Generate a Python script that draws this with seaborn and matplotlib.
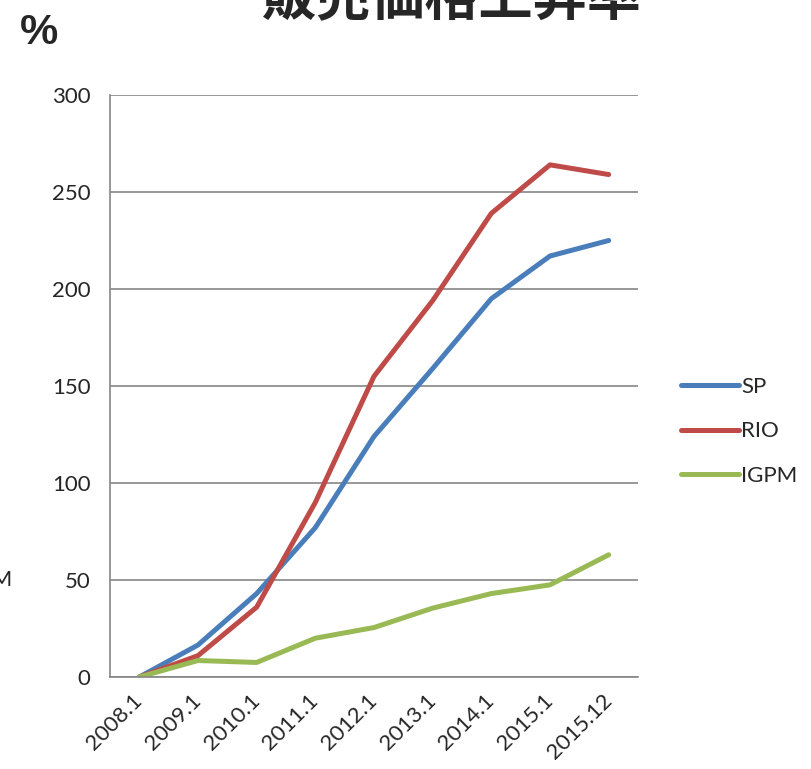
import matplotlib
matplotlib.use("Agg")
import matplotlib.pyplot as plt
import numpy as np
import pandas as pd
import seaborn as sns

# data
periods = ["2008.1", "2009.1", "2010.1", "2011.1", "2012.1",
           "2013.1", "2014.1", "2015.1", "2015.12"]
sp = [0, 16.5, 43, 77, 124, 159, 195, 217, 225]
rio = [0, 11, 36, 90, 155, 194, 239, 264, 259]
igpm = [0, 8.5, 7.5, 20, 25.5, 35.5, 43, 47.5, 63]
series_names = ["SP", "RIO", "IGPM"]
y_ticks = [0, 50, 100, 150, 200, 250, 300]

title = "販売価格上昇率"

frame = pd.DataFrame({"period": periods, "SP": sp, "RIO": rio, "IGPM": igpm})
long = frame.melt(id_vars="period", var_name="series", value_name="value")

sns.set_style("white")
plt.rcParams["font.family"] = ["Lato", "DejaVu Sans"]

palette = {"SP": "#4A7EBB", "RIO": "#BE4B48", "IGPM": "#98B954"}

fig = plt.figure(figsize=(8.11, 7.69), dpi=100)
ax = fig.add_axes([110 / 811, 1 - 677 / 769, (638 - 110) / 811, (677 - 95) / 769])

sns.lineplot(data=long, x="period", y="value", hue="series", hue_order=series_names,
             palette=palette, linewidth=3.6, ax=ax, sort=False)

n = len(periods)
ax.set_xlim(-0.5, n - 0.5)
ax.set_ylim(0, 300)
ax.set_yticks(y_ticks)
ax.set_xticks(range(n))
ax.set_xticklabels(periods, rotation=45, ha="right", va="center",
                   rotation_mode="anchor", fontsize=16)
ax.set_xticks(np.arange(-0.5, n, 1.0), minor=True)
ax.tick_params(axis="x", which="major", length=0, pad=15)
ax.tick_params(axis="x", which="minor", length=6, width=1.2, color="#868686")
ax.tick_params(axis="y", length=6, width=1.2, color="#868686", labelsize=16, pad=8)
ax.set_xlabel("")
ax.set_ylabel("")
ax.yaxis.grid(True, color="#868686", linewidth=1.2)
ax.set_axisbelow(True)
for side in ["top", "right"]:
    ax.spines[side].set_visible(False)
for side in ["left", "bottom"]:
    ax.spines[side].set_color("#868686")
    ax.spines[side].set_linewidth(1.2)

handles, labels = ax.get_legend_handles_labels()
ax.legend(handles, labels, loc="upper left", bbox_to_anchor=(672 / 811, 1 - 368 / 769),
          bbox_transform=fig.transFigure, frameon=False, fontsize=16,
          handlelength=2.6, handletextpad=0.1, labelspacing=1.1, borderaxespad=0)

fig.text(0.557, 1 - 14 / 769, title, ha="center", va="baseline", fontsize=39,
         fontweight="bold", family=["Noto Sans CJK JP", "DejaVu Sans"])
fig.text(20 / 811, 1 - 44 / 769, "%", ha="left", va="baseline", fontsize=31,
         fontweight="bold", family=["Liberation Sans", "DejaVu Sans"])
# stray axis label clipped at the left edge
fig.text(12 / 811, 1 - 586 / 769, "IGPM", ha="right", va="baseline", fontsize=16)

fig.savefig("out.png", dpi=100)
